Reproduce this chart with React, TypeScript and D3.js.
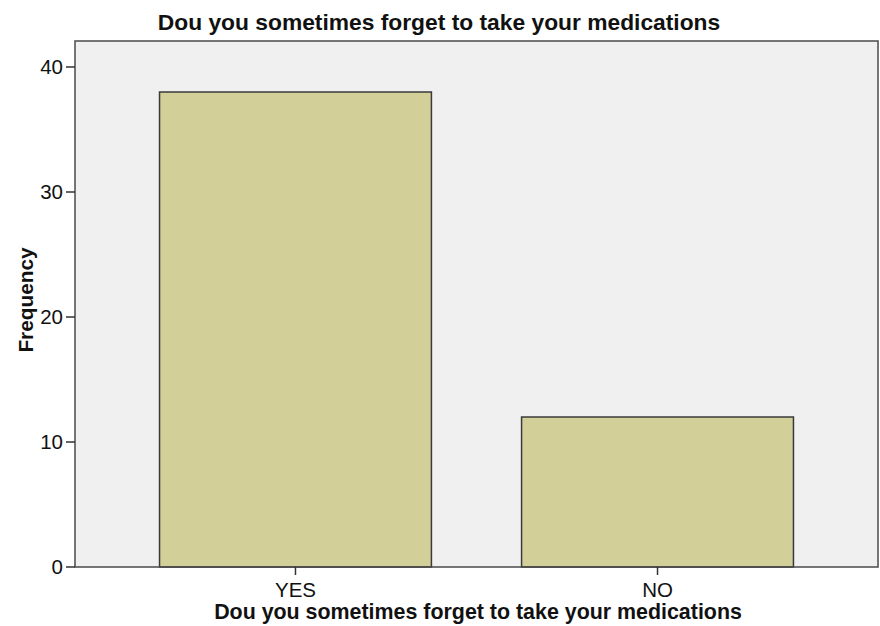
import * as d3 from 'd3'

const categories = ['YES', 'NO']
const frequencies = [38, 12]
const yTicks = [0, 10, 20, 30, 40]
const title = 'Dou you sometimes forget to take your medications'
const xTitle = 'Dou you sometimes forget to take your medications'
const yTitle = 'Frequency'

const W = 880
const H = 626
const plot = { left: 75, right: 878, top: 41, bottom: 567 }
const FONT = '"Liberation Sans", Arial, sans-serif'

export default function App() {
  const x = d3
    .scaleBand<string>()
    .domain(categories)
    .range([plot.left, plot.right])
    .paddingInner(0.249)
    .paddingOuter(0.2335)

  const y = d3.scaleLinear().domain([0, 42.08]).range([plot.bottom, plot.top])

  return (
    <svg
      width={W}
      height={H}
      style={{ position: 'absolute', left: 0, top: 0, background: '#fff' }}
      fontFamily={FONT}
    >
      {/* plot background */}
      <rect
        x={plot.left}
        y={plot.top}
        width={plot.right - plot.left}
        height={plot.bottom - plot.top}
        fill="#f0f0f0"
      />

      {/* bars */}
      {categories.map((c, i) => (
        <rect
          key={c}
          x={x(c)}
          y={y(frequencies[i])}
          width={x.bandwidth()}
          height={y(0) - y(frequencies[i])}
          fill="#d3cf98"
          stroke="#3a3a3a"
          strokeWidth={1.5}
        />
      ))}

      {/* frame */}
      <rect
        x={plot.left}
        y={plot.top}
        width={plot.right - plot.left}
        height={plot.bottom - plot.top}
        fill="none"
        stroke="#4a4a4a"
        strokeWidth={1.5}
      />

      {/* y ticks */}
      {yTicks.map((t) => (
        <g key={t}>
          <line x1={66} x2={plot.left} y1={y(t)} y2={y(t)} stroke="#333" strokeWidth={1.5} />
          <text x={63} y={y(t)} dy="0.36em" textAnchor="end" fontSize={20.5} fill="#111">
            {t}
          </text>
        </g>
      ))}

      {/* x ticks */}
      {categories.map((c) => {
        const cx = (x(c) ?? 0) + x.bandwidth() / 2
        return (
          <g key={c}>
            <line x1={cx} x2={cx} y1={plot.bottom} y2={plot.bottom + 8} stroke="#333" strokeWidth={1.5} />
            <text x={cx} y={597} textAnchor="middle" fontSize={20.5} fill="#111">
              {c}
            </text>
          </g>
        )
      })}

      {/* titles */}
      <text x={439} y={30} textAnchor="middle" fontSize={22.8} fontWeight="bold" fill="#111">
        {title}
      </text>
      <text x={478} y={619} textAnchor="middle" fontSize={21.4} fontWeight="bold" fill="#111">
        {xTitle}
      </text>
      <text
        transform="translate(33,300) rotate(-90)"
        textAnchor="middle"
        fontSize={20.8}
        fontWeight="bold"
        fill="#111"
      >
        {yTitle}
      </text>
    </svg>
  )
}
